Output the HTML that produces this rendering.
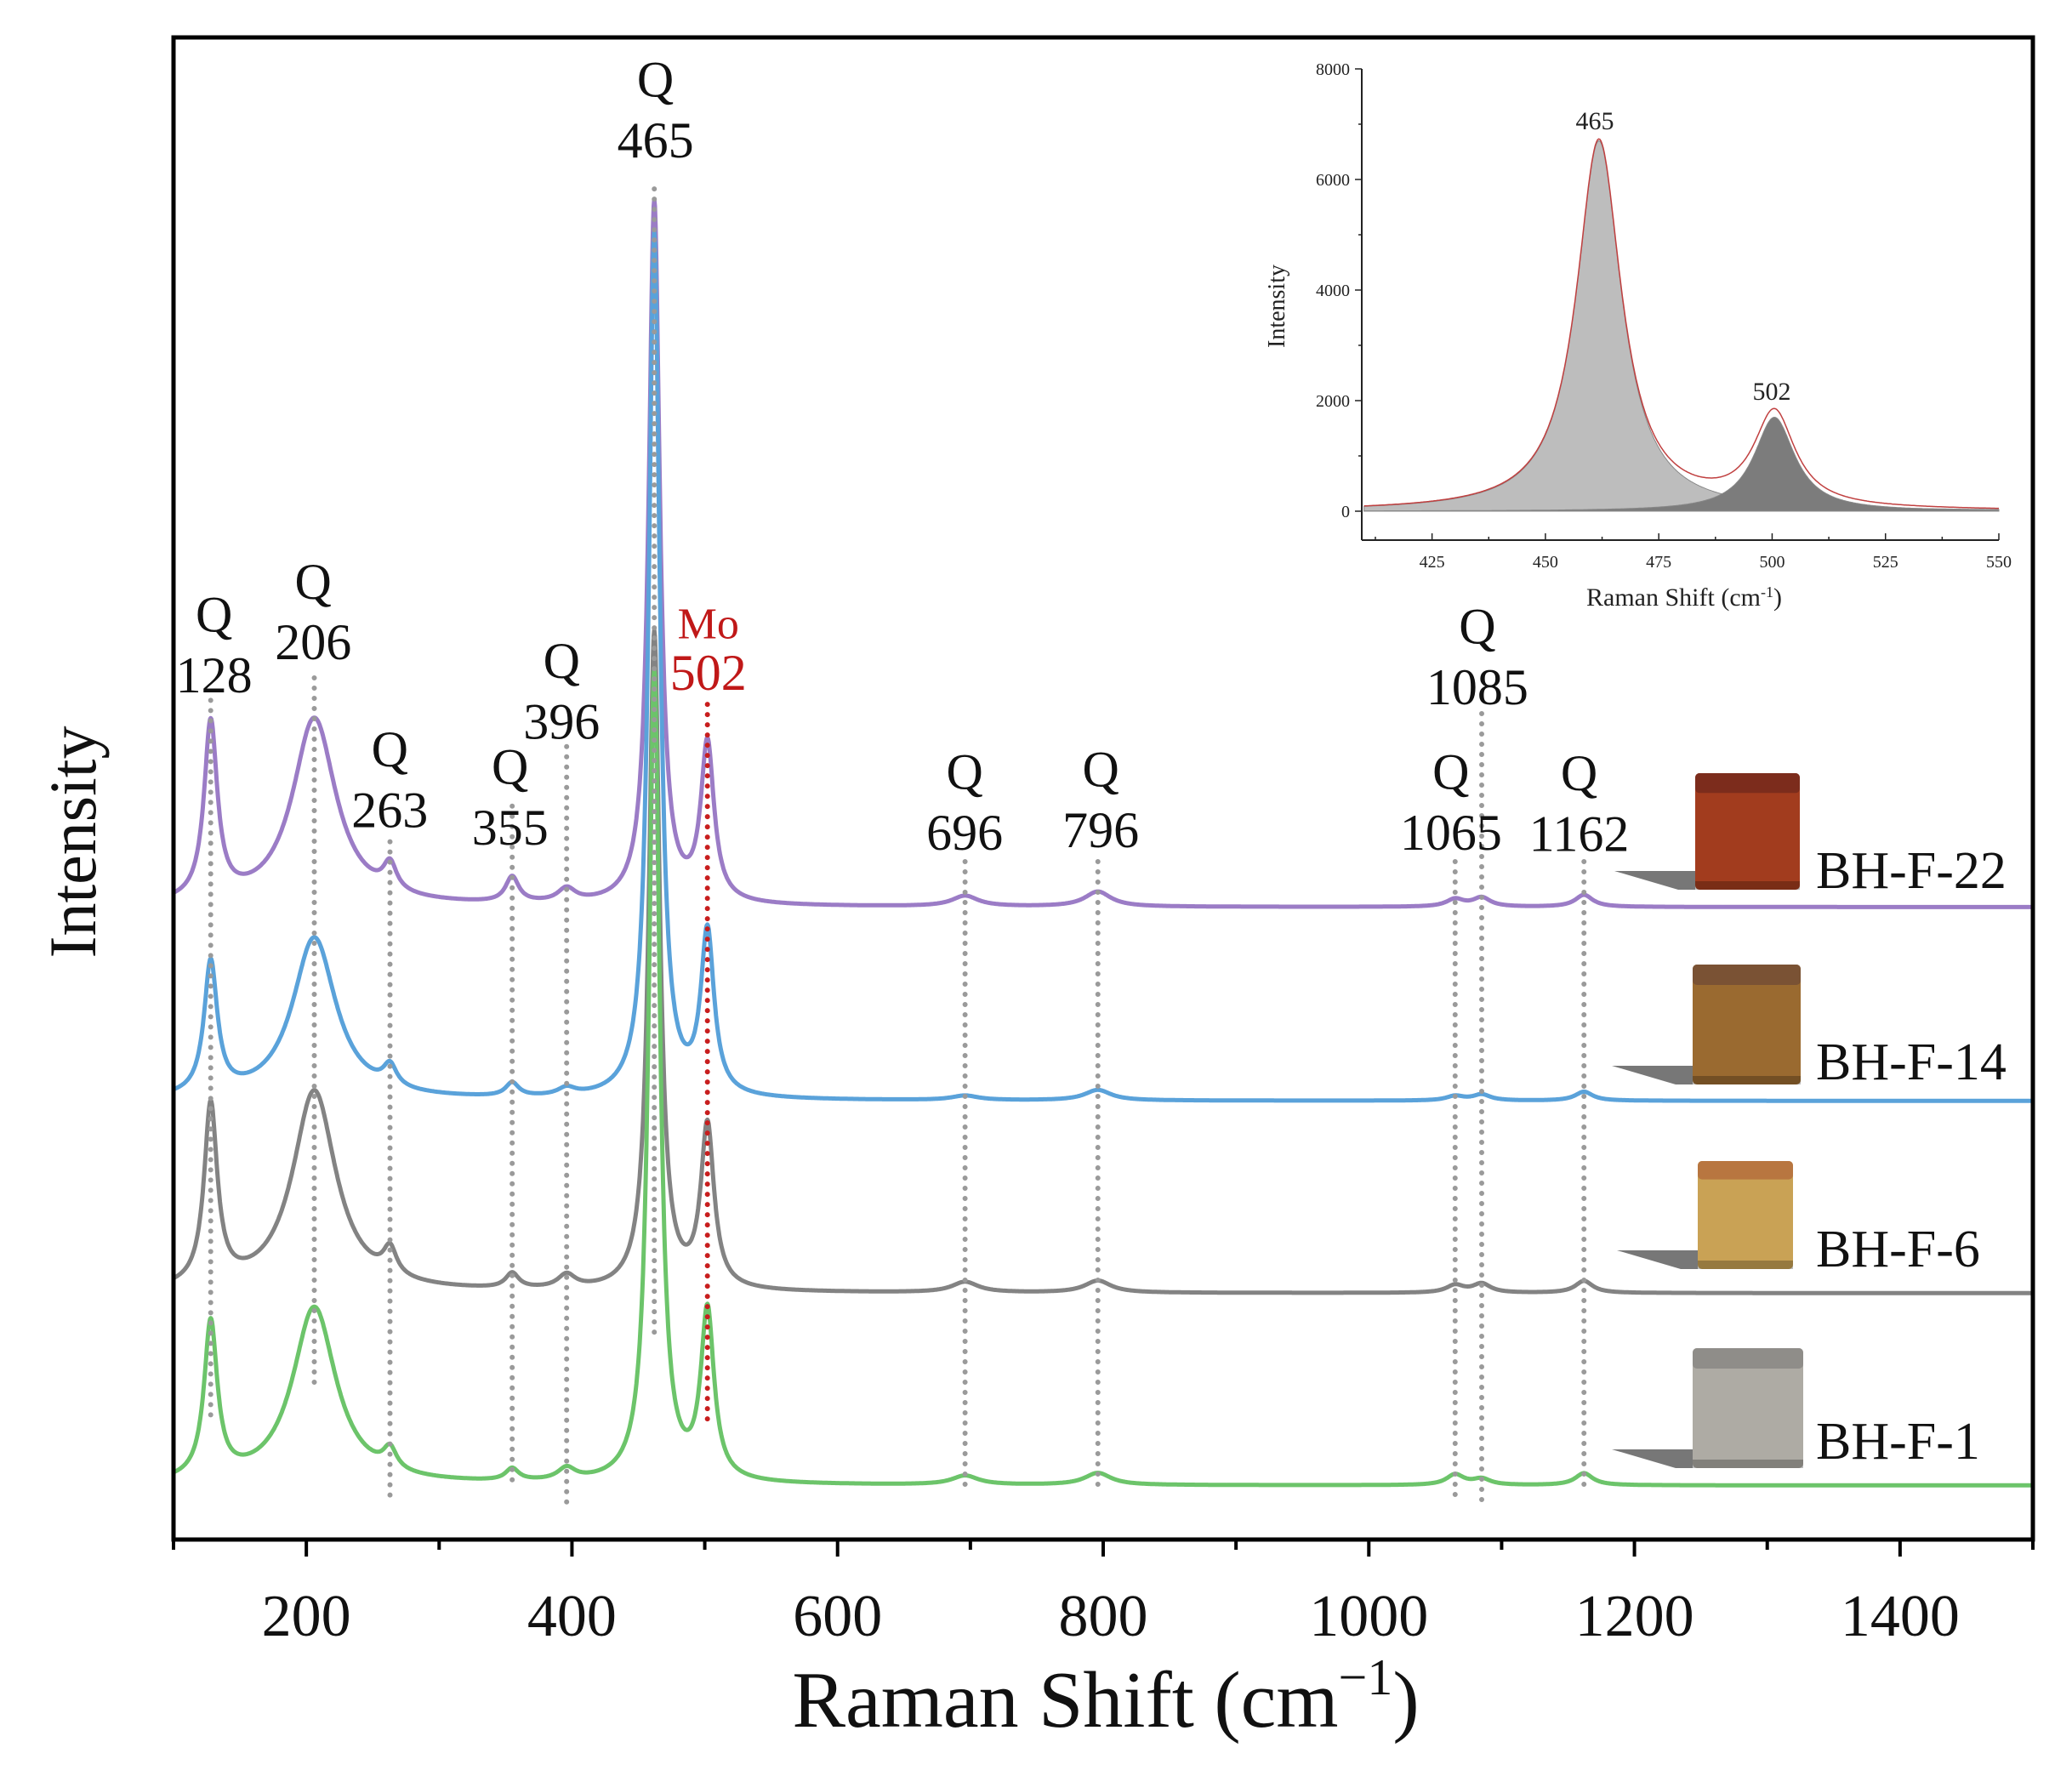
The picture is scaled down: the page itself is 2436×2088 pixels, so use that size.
<!DOCTYPE html>
<html><head><meta charset="utf-8"><style>
html,body{margin:0;padding:0;background:#fff}
svg{display:block}
text{font-family:"Liberation Serif",serif}
</style></head><body>
<svg id="chart" width="2436" height="2088" viewBox="0 0 2436 2088" xmlns="http://www.w3.org/2000/svg">
<g id="curves"></g>
<g id="refs"></g>
<g id="labels"></g>
<g id="axes"></g>
<g id="cubes"></g>
<g id="inset"></g>
</svg>
<script>
// ---- main chart data ----
const seriesNames = ["BH-F-22","BH-F-14","BH-F-6","BH-F-1"];
const seriesColors = ["#9b7cc6","#5aa2da","#838383","#6cc46a"];
const seriesOffsets = [421, 292, 164, 36];
const peakPositions = [128, 206, 263, 355, 396, 462, 502, 696, 796, 1065, 1085, 1162];
const peakWidths    = [6, 20, 6, 6, 8, 5, 6, 12, 12, 8, 8, 8];
const heightsF22 = [118, 125, 18, 17, 9, 468, 105, 7, 10, 5, 6, 8];
const heightsF14 = [88, 108, 14, 9, 5, 575, 108, 3, 7, 3, 4, 6];
const heightsF6  = [120, 134, 18, 10, 9, 438, 108, 7, 8, 5, 6, 8];
const heightsF1  = [104, 118, 14, 8, 8, 540, 112, 6, 8, 7, 4, 8];
const seriesHeights = [heightsF22, heightsF14, heightsF6, heightsF1];
const xTicks = [200, 400, 600, 800, 1000, 1200, 1400];
const refLines = [128, 206, 263, 355, 396, 462, 696, 796, 1065, 1085, 1162];
const refTops  = [530, 513, 637, 610, 565, 143, 652, 652, 652, 540, 652];
const refBots  = [1075, 1050, 1133, 1125, 1140, 1015, 1125, 1125, 1133, 1135, 1130];
const labelTexts = ["128","206","263","355","396","465","696","796","1065","1085","1162"];
const labelX     = [162, 237, 295, 386, 425, 496, 730, 833, 1098, 1118, 1195];
const labelQy    = [478, 453, 580, 593, 513, 73, 597, 595, 597, 487, 598];
// ---- inset data ----
const insetPos = [461.8, 500.5];
const insetHeights = [6700, 1700];
const insetWidths = [6, 5.5];
const insetYTicks = [0, 2000, 4000, 6000, 8000];
const insetXTicks = [425, 450, 475, 500, 525, 550];

const NS = "http://www.w3.org/2000/svg";
function mk(tag, attrs, parent){const e=document.createElementNS(NS,tag);for(const k in attrs)e.setAttribute(k,attrs[k]);parent.appendChild(e);return e;}
const S = 1.5536;
const X0=204, X1=2390, Y0=44, Y1=1810;
const xs = v => X0 + (v-100)*(X1-X0)/1400;
const ys = v => Y1 - v*1.766;
const lor = (x,p,h,w) => h*w*w/((x-p)*(x-p)+w*w);

const gC = document.getElementById('curves');
for(let s=0;s<seriesNames.length;s++){
  let d="";
  for(let x=100;x<=1500;x+=0.5){
    let v=seriesOffsets[s];
    for(let k=0;k<peakPositions.length;k++) v+=lor(x,peakPositions[k],seriesHeights[s][k],peakWidths[k]);
    d+=(x===100?"M":"L")+xs(x).toFixed(1)+","+ys(v).toFixed(1);
  }
  const p=mk('path',{d:d,fill:"none",stroke:seriesColors[s],"stroke-width":5,"stroke-linejoin":"round"},gC);
  
  
}
const gR=document.getElementById('refs');
for(let i=0;i<refLines.length;i++){
  const l=mk('line',{x1:xs(refLines[i]),x2:xs(refLines[i]),y1:refTops[i]*S,y2:refBots[i]*S,stroke:"#9a9a9a","stroke-width":6,"stroke-dasharray":"0 12","stroke-linecap":"round"},gR);
  
  
}
const mo=mk('line',{x1:xs(502),x2:xs(502),y1:533*S,y2:1075*S,stroke:"#c81e1e","stroke-width":6,"stroke-dasharray":"0 12","stroke-linecap":"round"},gR);



const gL=document.getElementById('labels');
for(let i=0;i<labelTexts.length;i++){
  const q=mk('text',{x:labelX[i]*S,y:labelQy[i]*S,"font-size":60,"text-anchor":"middle",fill:"#111"},gL);
  q.textContent="Q";
  
  
  const t=mk('text',{x:labelX[i]*S,y:(labelQy[i]+46)*S,"font-size":60,"text-anchor":"middle",fill:"#111"},gL);
  t.textContent=labelTexts[i];
  
  
}
const moT=mk('text',{x:536*S,y:483*S,"font-size":52,"text-anchor":"middle",fill:"#c01818"},gL);
moT.textContent="Mo";


const moN=mk('text',{x:536*S,y:522*S,"font-size":60,"text-anchor":"middle",fill:"#c01818"},gL);
moN.textContent="502";



const gA=document.getElementById('axes');
const fr=mk('rect',{x:X0,y:Y0,width:X1-X0,height:Y1-Y0,fill:"none",stroke:"#000","stroke-width":5},gA);


for(let v=100;v<=1500;v+=100){
  const major=v%200===0;
  mk('line',{x1:xs(v),x2:xs(v),y1:Y1,y2:Y1+(major?20:12),stroke:"#000","stroke-width":4},gA);
}
for(let i=0;i<xTicks.length;i++){
  const t=mk('text',{x:xs(xTicks[i]),y:1923,"font-size":70,"text-anchor":"middle",fill:"#111"},gA);
  t.textContent=xTicks[i];
  
  
}
const xt=mk('text',{x:1300,y:2030,"font-size":94,"text-anchor":"middle",fill:"#111"},gA);
xt.innerHTML='Raman Shift (cm<tspan dy="-38" font-size="60">−1</tspan><tspan dy="38">)</tspan>';


const yt=mk('text',{x:0,y:0,"font-size":78,"text-anchor":"middle",fill:"#111",transform:"translate(112,990) rotate(-90)"},gA);
yt.textContent="Intensity";



const gCu=document.getElementById('cubes');
const cubeBox=[[1993,909,2116,1046],[1990,1134,2117,1275],[1996,1365,2108,1492],[1990,1585,2120,1726]];
const cubeFront=["#a23c1e","#9a6a30","#c9a255","#aeaba4"];
const cubeTop=["#7c2c1c","#7a5234","#b87640","#8f8d89"];
const labelBase=[1044,1269,1489,1715];
for(let i=0;i<4;i++){
  const [a,b,c,d]=cubeBox[i];
  const g=mk('g',{},gCu);
  
  
  mk('polygon',{points:`${a-95},${d-22} ${a},${d-22} ${a},${d} ${a-20},${d}`,fill:"#555",opacity:0.8},g);
  mk('rect',{x:a,y:b,width:c-a,height:d-b,rx:5,fill:cubeFront[i]},g);
  mk('rect',{x:a,y:b,width:c-a,height:(d-b)*0.17,rx:5,fill:cubeTop[i]},g);
  mk('rect',{x:a,y:d-10,width:c-a,height:10,fill:"#000",opacity:0.25},g);
  const t=mk('text',{x:2135,y:labelBase[i],"font-size":62,fill:"#111"},gCu);
  t.textContent=seriesNames[i];
  
  
}

const gI=document.getElementById('inset');
const IX0=1601, IX1=2350, IY0=601, IYB=635;
const ixs=v=>IX0+(v-409.5)*(IX1-IX0)/140.5;
const iys=v=>IY0-v*0.065;
function compPath(k){
  let d="M"+ixs(410)+","+iys(0);
  for(let x=410;x<=550;x+=0.25) d+="L"+ixs(x).toFixed(1)+","+iys(lor(x,insetPos[k],insetHeights[k],insetWidths[k])).toFixed(1);
  return d+"L"+ixs(550)+","+iys(0)+"Z";
}
const fills=["#bdbdbd","#7c7c7c"];
for(let k=0;k<insetPos.length;k++){
  const p=mk('path',{d:compPath(k),fill:fills[k],stroke:"#888","stroke-width":1},gI);
  
  
}
let env="";
for(let x=410;x<=550;x+=0.25){let v=0;for(let k=0;k<insetPos.length;k++)v+=lor(x,insetPos[k],insetHeights[k],insetWidths[k]);env+=(x===410?"M":"L")+ixs(x).toFixed(1)+","+iys(v).toFixed(1);}
const ep=mk('path',{d:env,fill:"none",stroke:"#c04040","stroke-width":1.5},gI);


mk('line',{x1:IX0,x2:IX0,y1:iys(8000),y2:IYB,stroke:"#222","stroke-width":2},gI);
mk('line',{x1:IX0,x2:IX1,y1:IYB,y2:IYB,stroke:"#222","stroke-width":2},gI);
for(let v=0;v<=8000;v+=1000){mk('line',{x1:IX0-(v%2000===0?8:4),x2:IX0,y1:iys(v),y2:iys(v),stroke:"#222","stroke-width":1.5},gI);}
for(let i=0;i<insetYTicks.length;i++){
  const t=mk('text',{x:IX0-14,y:iys(insetYTicks[i])+7,"font-size":20,"text-anchor":"end",fill:"#222"},gI);
  t.textContent=insetYTicks[i];
  
  
}
for(let v=412.5;v<=550;v+=12.5){mk('line',{x1:ixs(v),x2:ixs(v),y1:IYB,y2:IYB-((v%25===0)?8:4),stroke:"#222","stroke-width":1.5},gI);}
for(let i=0;i<insetXTicks.length;i++){
  const t=mk('text',{x:ixs(insetXTicks[i]),y:667,"font-size":20,"text-anchor":"middle",fill:"#222"},gI);
  t.textContent=insetXTicks[i];
  
  
}
const ix=mk('text',{x:1980,y:712,"font-size":30,"text-anchor":"middle",fill:"#222"},gI);
ix.innerHTML='Raman Shift (cm<tspan dy="-10" font-size="18">-1</tspan><tspan dy="10">)</tspan>';


const iy=mk('text',{x:0,y:0,"font-size":28,"text-anchor":"middle",fill:"#222",transform:"translate(1510,360) rotate(-90)"},gI);
iy.textContent="Intensity";


const pl=["465","502"], plx=[1875,2083], ply=[152,470];
for(let i=0;i<2;i++){
  const t=mk('text',{x:plx[i],y:ply[i],"font-size":30,"text-anchor":"middle",fill:"#222"},gI);
  t.textContent=pl[i];
  
  
}
</script>
</body></html>
